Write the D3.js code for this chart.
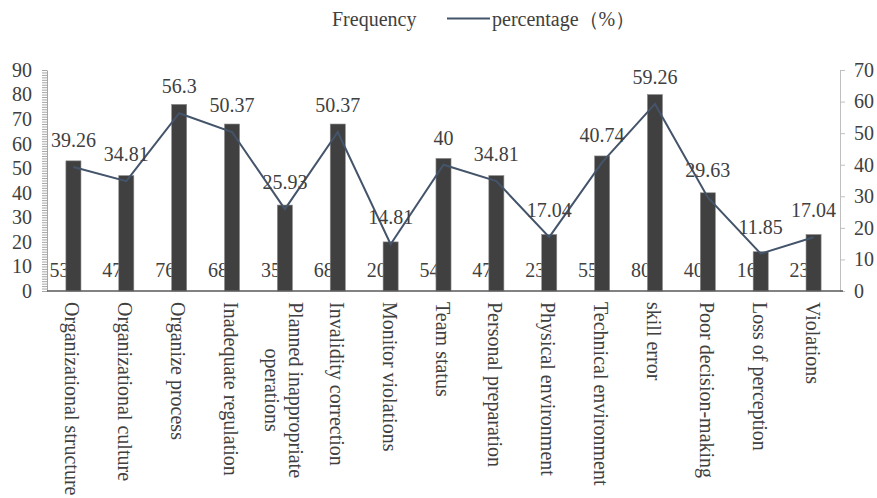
<!DOCTYPE html>
<html>
<head>
<meta charset="utf-8">
<script src="https://cdn.jsdelivr.net/npm/d3@7"></script>
<style>
  html, body { margin: 0; padding: 0; background: #fff; }
</style>
</head>
<body>
<svg id="chart" width="877" height="498"></svg>
<script>
// Category names ("\n" marks a wrapped line)
const categories = [
  "Organizational structure", "Organizational culture", "Organize process",
  "Inadequate regulation", "Planned inappropriate\noperations", "Invalidity correction",
  "Monitor violations", "Team status", "Personal preparation", "Physical environment",
  "Technical environment", "skill error", "Poor decision-making", "Loss of perception",
  "Violations"
];
// Frequency (bars, left axis)
const frequency = [53, 47, 76, 68, 35, 68, 20, 54, 47, 23, 55, 80, 40, 16, 23];
// Percentage (line, right axis)
const percentage = [39.26, 34.81, 56.3, 50.37, 25.93, 50.37, 14.81, 40, 34.81, 17.04,
                    40.74, 59.26, 29.63, 11.85, 17.04];
// Axis ticks
const leftTicks = [0, 10, 20, 30, 40, 50, 60, 70, 80, 90];
const rightTicks = [0, 10, 20, 30, 40, 50, 60, 70];

const FONT = "'Liberation Serif', 'Times New Roman', Tinos, serif";
const svg = d3.select("#chart");
const textColor = "#404040";
const barColor = "#404040";
const lineColor = "#44546A";

const plot = { left: 47, right: 840, top: 70, bottom: 291 };

const x = d3.scaleBand()
  .domain(categories)
  .range([plot.left, plot.right])
  .paddingInner(0.715)
  .paddingOuter(0.3575);
const cx = d => x(d) + x.bandwidth() / 2;

const yL = d3.scaleLinear().domain([0, 90]).range([plot.bottom, plot.top]);
const yR = d3.scaleLinear().domain([0, 70]).range([plot.bottom, plot.top]);

function styleText(sel) {
  return sel.attr("fill", textColor)
    .attr("font-family", FONT)
    .style("font-family", FONT)
    .style("font-size", "20px");
}

// Left axis: minor ticks every unit, majors every 10
const minor = d3.range(0, 91).filter(v => v % 10 !== 0);
const gLm = svg.append("g").attr("transform", `translate(${plot.left},0)`)
  .call(d3.axisLeft(yL).tickValues(minor).tickSize(5).tickFormat(""));
gLm.select(".domain").remove();
gLm.selectAll("line").attr("stroke", "#a6a6a6");

const gL = svg.append("g").attr("transform", `translate(${plot.left},0)`)
  .call(d3.axisLeft(yL).tickValues(leftTicks).tickSize(5).tickPadding(10).tickSizeOuter(0));
gL.attr("font-family", FONT);
gL.select(".domain").attr("stroke", "#a6a6a6");
gL.selectAll("line").attr("stroke", "#a6a6a6");
styleText(gL.selectAll("text"));

// Right axis
const gR = svg.append("g").attr("transform", `translate(${plot.right},0)`)
  .call(d3.axisRight(yR).tickValues(rightTicks).tickSize(5).tickPadding(9).tickSizeOuter(0));
gR.attr("font-family", FONT);
gR.select(".domain").attr("stroke", "#bfbfbf");
gR.selectAll("line").attr("stroke", "#bfbfbf");
styleText(gR.selectAll("text"));

// Frequency labels sit at the base, partly behind the bars
styleText(svg.append("g").selectAll("text").data(categories).join("text"))
  .attr("x", d => cx(d) - 14)
  .attr("y", plot.bottom - 14)
  .attr("text-anchor", "middle")
  .text((d, i) => frequency[i]);

// Bars
svg.append("g").selectAll("rect").data(categories).join("rect")
  .attr("x", d => x(d))
  .attr("width", x.bandwidth())
  .attr("y", (d, i) => yL(frequency[i]))
  .attr("height", (d, i) => yL(0) - yL(frequency[i]))
  .attr("fill", barColor)
  .attr("stroke", "#8c8c8c")
  .attr("stroke-width", 0.6);

// Category axis line
svg.append("line")
  .attr("x1", plot.left).attr("x2", plot.right + 3)
  .attr("y1", plot.bottom).attr("y2", plot.bottom)
  .attr("stroke", "#595959").attr("stroke-width", 1.5);

// Percentage line
const line = d3.line().x((d, i) => cx(categories[i])).y(d => yR(d));
svg.append("path").datum(percentage)
  .attr("d", line)
  .attr("fill", "none")
  .attr("stroke", lineColor)
  .attr("stroke-width", 2);

// Percentage labels
styleText(svg.append("g").selectAll("text").data(percentage).join("text"))
  .attr("x", (d, i) => cx(categories[i]))
  .attr("y", d => yR(d) - 20)
  .attr("text-anchor", "middle")
  .text(d => d);

// Rotated category labels
const labelG = svg.append("g").selectAll("g").data(categories).join("g")
  .attr("transform", d => `translate(${cx(d)},302) rotate(90)`);
labelG.each(function (d) {
  const g = d3.select(this);
  const lines = d.split("\n");
  const n = lines.length;
  const texts = lines.map((t, i) => styleText(g.append("text"))
    .attr("y", (i - (n - 1) / 2) * 24)
    .attr("dy", "0.4em")
    .text(t));
  const widths = texts.map(t => t.node().getComputedTextLength());
  const maxW = d3.max(widths);
  texts.forEach((t, i) => t.attr("x", (maxW - widths[i]) / 2));
});

// Legend
const legend = svg.append("g");
styleText(legend.append("text")).attr("x", 332).attr("y", 26).text("Frequency");
legend.append("line").attr("x1", 447).attr("x2", 490).attr("y1", 18.5).attr("y2", 18.5)
  .attr("stroke", lineColor).attr("stroke-width", 2);
styleText(legend.append("text")).attr("x", 492).attr("y", 26).text("percentage（%）");
</script>
</body>
</html>
